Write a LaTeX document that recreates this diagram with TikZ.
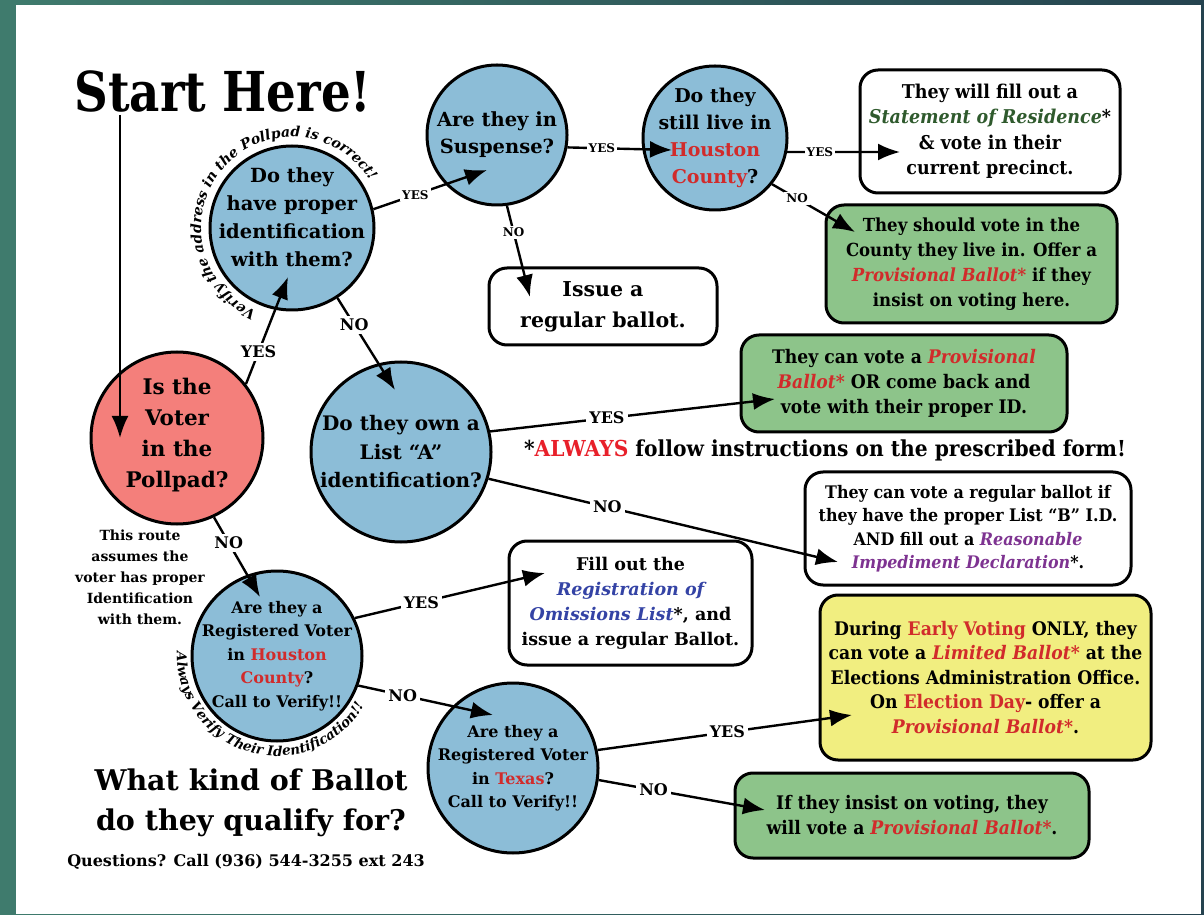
\documentclass[tikz,border=0pt]{standalone}
\usepackage{fontspec}
\setmainfont{DejaVu Serif}
\newfontfamily\narrowserif{DejaVu Serif}[FakeStretch=0.92]
\newfontfamily\titleserif{DejaVu Serif}[FakeStretch=0.85]
\usetikzlibrary{arrows.meta,calc,decorations.text}

\definecolor{qblue}{HTML}{8CBDD7}
\definecolor{qred}{HTML}{F47F7B}
\definecolor{agreen}{HTML}{8DC48A}
\definecolor{ayellow}{HTML}{F1EE80}
\definecolor{hred}{HTML}{D12B2B}
\definecolor{alwred}{HTML}{E8202A}
\definecolor{resgreen}{HTML}{2F5A2D}
\definecolor{omblue}{HTML}{3443A5}
\definecolor{rpurple}{HTML}{7E3391}
\definecolor{edgeteal}{HTML}{3F7B6D}
\definecolor{edgedark}{HTML}{25434F}

\tikzset{
  question/.style={draw, circle, line width=3pt, fill=qblue, align=center, inner sep=-40pt, font=\bfseries},
  answer/.style={draw, rounded corners=18pt, line width=3pt, fill=white, align=center, inner sep=0pt},
  flow/.style={-{Latex[length=22pt,width=17pt]}, line width=2.4pt},
  yn/.style={fill=white, inner sep=3pt, font=\bfseries\fontsize{16}{16}\selectfont},
  smallyn/.style={fill=white, inner sep=2pt, font=\bfseries\fontsize{12}{12}\selectfont},
}

\begin{document}
\begin{tikzpicture}[x=1pt,y=1pt]
% page
\fill[left color=edgeteal, right color=edgedark] (0,0) rectangle (1204,914);
\fill[white] (16,0) rectangle (1201,909);
\useasboundingbox (0,0) rectangle (1204,914);

% titles
\node[anchor=base, font=\titleserif\bfseries\fontsize{55}{55}\selectfont] (title) at (223,802) {Start Here!};
\node[align=center, font=\bfseries\fontsize{28.5}{40}\selectfont] (ballotq) at (251,111) {What kind of Ballot\\do they qualify for?};
\node[font=\bfseries\fontsize{16}{16}\selectfont] (phone) at (246,52) {Questions? Call (936) 544-3255 ext 243};
\node[align=center, font=\bfseries\fontsize{14}{21}\selectfont] (routenote) at (140,337) {This route\\assumes the\\voter has proper\\Identification\\with them.};
\node[font=\narrowserif\bfseries\fontsize{22}{22}\selectfont] (always) at (825,464) {*{\color{alwred}ALWAYS} follow instructions on the prescribed form!};

% questions
\node[question, fill=qred, minimum size=172pt, font=\bfseries\fontsize{21.5}{31}\selectfont] (pollpad) at (177,476) {Is the\\Voter\\in the\\Pollpad?\\[-20pt]\mbox{}};
\node[question, minimum size=164pt, font=\bfseries\fontsize{19.5}{28}\selectfont] (idcheck) at (292,686) {Do they\\have proper\\identification\\with them?\\[-6pt]\mbox{}};
\node[question, minimum size=140pt, font=\bfseries\fontsize{19.5}{27}\selectfont] (suspense) at (497,779) {Are they in\\Suspense?};
\node[question, minimum size=144pt, font=\bfseries\fontsize{19}{27}\selectfont] (stilllive) at (715,776) {Do they\\still live in\\{\color{hred}Houston}\\{\color{hred}County}?};
\node[question, minimum size=180pt, font=\bfseries\fontsize{20}{28.5}\selectfont] (lista) at (401,462) {Do they own a\\List “A”\\identification?};
\node[question, minimum size=170pt, font=\bfseries\fontsize{16}{23.5}\selectfont] (reghouston) at (277,258) {Are they a\\Registered Voter\\in {\color{hred}Houston}\\{\color{hred}County}?\\Call to Verify!!};
\node[question, minimum size=170pt, font=\bfseries\fontsize{16}{23.5}\selectfont] (regtexas) at (513,146) {Are they a\\Registered Voter\\in {\color{hred}Texas}?\\Call to Verify!!};

% curved notes
\path[decorate, decoration={text along path, text align=center,
  text={|\bfseries\itshape\fontsize{14}{14}\selectfont|Verify the address in the Pollpad is correct!}}]
  ($(idcheck)+(252:91)$) arc[start angle=252, end angle=26, radius=91];
\path[decorate, decoration={text along path, text align=center,
  text={|\bfseries\itshape\fontsize{13.5}{13.5}\selectfont|Always Verify Their Identification!!}}]
  ($(reghouston)+(171:100)$) arc[start angle=171, end angle=337, radius=100];

% answers
\node[answer, minimum width=260pt, minimum height=123pt, font=\narrowserif\bfseries\fontsize{19}{25.5}\selectfont] (residence) at (990,782.5) {They will fill out a\\\textit{\color{resgreen}Statement of Residence}*\\\& vote in their\\current precinct.};
\node[answer, fill=agreen, minimum width=291pt, minimum height=118pt, font=\narrowserif\bfseries\fontsize{18}{25}\selectfont] (otherco) at (971.5,650) {They should vote in the\\County they live in. Offer a\\\textit{\color{hred}Provisional Ballot*} if they\\insist on voting here.};
\node[answer, minimum width=228pt, minimum height=77pt, font=\bfseries\fontsize{20.5}{31}\selectfont] (regular) at (603,607.5) {Issue a\\regular ballot.};
\node[answer, fill=agreen, minimum width=326pt, minimum height=97pt, font=\narrowserif\bfseries\fontsize{18.7}{25}\selectfont] (provid) at (904,530.5) {They can vote a \textit{\color{hred}Provisional}\\\textit{\color{hred}Ballot*} OR come back and\\vote with their proper ID.};
\node[answer, minimum width=326pt, minimum height=113pt, font=\narrowserif\bfseries\fontsize{17.3}{23.5}\selectfont] (listb) at (968,385.5) {They can vote a regular ballot if\\they have the proper List “B” I.D.\\AND fill out a \textit{\color{rpurple}Reasonable}\\\textit{\color{rpurple}Impediment Declaration}*.};
\node[answer, minimum width=243pt, minimum height=124pt, font=\bfseries\fontsize{17.5}{25}\selectfont] (omissions) at (630.5,311) {Fill out the\\\textit{\color{omblue}Registration of}\\\textit{\color{omblue}Omissions List}*, and\\issue a regular Ballot.};
\node[answer, fill=ayellow, minimum width=331pt, minimum height=165pt, font=\narrowserif\bfseries\fontsize{18.7}{24.5}\selectfont] (limited) at (985.5,236.5) {During {\color{hred}Early Voting} ONLY, they\\can vote a \textit{\color{hred}Limited Ballot*} at the\\Elections Administration Office.\\On {\color{hred}Election Day}- offer a\\\textit{\color{hred}Provisional Ballot*}.};
\node[answer, fill=agreen, minimum width=354pt, minimum height=85pt, font=\narrowserif\bfseries\fontsize{18.7}{25}\selectfont] (insist) at (912,98.5) {If they insist on voting, they\\will vote a \textit{\color{hred}Provisional Ballot*}.};

% connectors
\coordinate (startfoot) at (120,799);
\draw[flow] (startfoot) -- ($(pollpad)+(-57,0)$);
\draw[flow] (pollpad.38) -- node[yn,pos=0.3]{YES} ($(idcheck)+(-4,-49)$);
\draw[flow] (idcheck.13) -- node[smallyn,pos=0.37]{YES} ($(suspense)+(-10,-35)$);
\draw[flow] (suspense.-10) -- node[smallyn,pos=0.33]{YES} ($(stilllive)+(-43,-12)$);
\draw[flow] (stilllive.-11) -- node[smallyn,pos=0.29]{YES} ($(residence)+(-90,-20.5)$);
\draw[flow] (stilllive.-39) -- node[smallyn,pos=0.3]{NO} ($(otherco)+(-116.5,32)$);
\draw[flow] (suspense.-82) -- node[smallyn,pos=0.29]{NO} ($(regular)+(-73,9.5)$);
\draw[flow] (idcheck.-57) -- node[yn,pos=0.29]{NO} ($(lista)+(-6,62)$);
\draw[flow] (pollpad.-65) -- node[yn,pos=0.32]{NO} ($(reghouston)+(-17,59)$);
\draw[flow] (lista.13) -- node[yn,pos=0.41]{YES} ($(provid)+(-129,-15.5)$);
\draw[flow] (lista.-17) -- node[yn,pos=0.34]{NO} ($(listb)+(-130,-33.5)$);
\draw[flow] (reghouston.26) -- node[yn,pos=0.35]{YES} ($(omissions)+(-85.5,30)$);
\draw[flow] (reghouston.-20) -- node[yn,pos=0.33]{NO} ($(regtexas)+(-20,53)$);
\draw[flow] (regtexas.12) -- node[yn,pos=0.51]{YES} ($(limited)+(-133.5,-37.5)$);
\draw[flow] (regtexas.-8) -- node[yn,pos=0.33]{NO} ($(insist)+(-147,5.5)$);
\end{tikzpicture}
\end{document}
